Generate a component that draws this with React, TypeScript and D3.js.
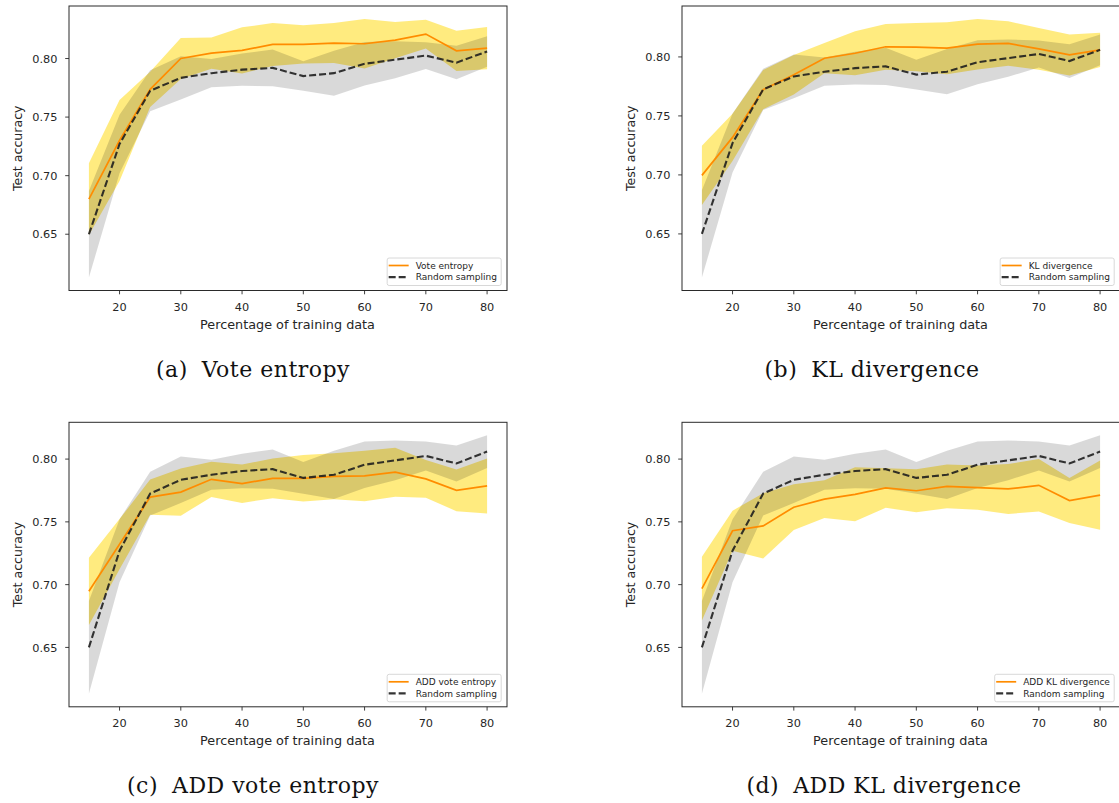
import React, { useEffect, useRef } from "react";
import * as d3 from "d3";

// Percentage of the training set used at each step
const pct = [15, 20, 25, 30, 35, 40, 45, 50, 55, 60, 65, 70, 75, 80];

// Random sampling baseline (mean test accuracy and standard deviation)
const randomMean = [0.65, 0.727, 0.7725, 0.7835, 0.7875, 0.7905, 0.792, 0.785, 0.7875, 0.7955, 0.799, 0.8025, 0.7965, 0.806];
const randomStd = [0.037, 0.025, 0.0175, 0.0185, 0.012, 0.0138, 0.0157, 0.0126, 0.0192, 0.0186, 0.0158, 0.0115, 0.0143, 0.013];

// Vote entropy
const voteEntropyMean = [0.68, 0.73, 0.7737, 0.8, 0.8046, 0.8069, 0.812, 0.812, 0.8132, 0.8126, 0.8157, 0.8209, 0.8066, 0.8089];
const voteEntropyStd = [0.0307, 0.0345, 0.015, 0.0175, 0.0134, 0.0197, 0.0183, 0.0163, 0.0171, 0.0212, 0.0155, 0.0123, 0.0172, 0.018];

// KL divergence
const klMean = [0.6996, 0.7318, 0.7723, 0.7849, 0.7989, 0.8031, 0.8086, 0.8083, 0.8074, 0.8108, 0.8114, 0.8068, 0.8017, 0.806];
const klStd = [0.0251, 0.02, 0.0166, 0.0168, 0.0128, 0.0186, 0.0194, 0.0205, 0.022, 0.0214, 0.0188, 0.0177, 0.0174, 0.0145];

// ADD vote entropy
const addVoteMean = [0.6947, 0.7322, 0.7697, 0.7737, 0.7839, 0.7804, 0.7847, 0.7847, 0.7863, 0.7866, 0.7896, 0.7842, 0.7751, 0.7786];
const addVoteStd = [0.0268, 0.02, 0.014, 0.0188, 0.014, 0.0153, 0.0158, 0.0185, 0.0183, 0.0201, 0.0195, 0.015, 0.0166, 0.0219];

// ADD KL divergence
const addKlMean = [0.6969, 0.7429, 0.7468, 0.7617, 0.7681, 0.7719, 0.777, 0.7748, 0.7783, 0.7772, 0.7762, 0.7791, 0.767, 0.7713];
const addKlStd = [0.0254, 0.016, 0.026, 0.0182, 0.015, 0.0215, 0.0158, 0.0171, 0.0174, 0.0176, 0.0199, 0.0209, 0.0179, 0.0275];

const xTicks = [20, 30, 40, 50, 60, 70, 80];
const yTicks = [0.65, 0.7, 0.75, 0.8];

const panelTags = ["(a)", "(b)", "(c)", "(d)"];
const methodNames = ["Vote entropy", "KL divergence", "ADD vote entropy", "ADD KL divergence"];
const methodMeans = [voteEntropyMean, klMean, addVoteMean, addKlMean];
const methodStds = [voteEntropyStd, klStd, addVoteStd, addKlStd];

const baselineName = "Random sampling";
const xLabel = "Percentage of training data";
const yLabel = "Test accuracy";

const W = 1119;
const H = 803;
const colLeft = [69, 682];
const rowTop = [6, 422.3];
const axW = 438;
const axH = 284.5;
const captionX = [253, 872, 253, 884];

const SANS = "'DejaVu Sans', sans-serif";
const SERIF = "'DejaVu Serif', serif";
const TEXT = "#262626";

export default function App() {
  const ref = useRef<SVGSVGElement | null>(null);

  useEffect(() => {
    const svg = d3.select(ref.current);
    svg.selectAll("*").remove();

    methodNames.forEach((name, i) => {
      const col = i % 2;
      const row = Math.floor(i / 2);
      const left = colLeft[col];
      const top = rowTop[row];
      const mean = methodMeans[i];
      const std = methodStds[i];

      const lo = (m: number[], s: number[]) => m.map((v, k) => v - s[k]);
      const hi = (m: number[], s: number[]) => m.map((v, k) => v + s[k]);
      const all = [...lo(mean, std), ...hi(mean, std), ...lo(randomMean, randomStd), ...hi(randomMean, randomStd)];
      const yMin = d3.min(all) as number;
      const yMax = d3.max(all) as number;
      const yPad = (yMax - yMin) * 0.05;
      const xMin = d3.min(pct) as number;
      const xMax = d3.max(pct) as number;
      const xPad = (xMax - xMin) * 0.05;

      const x = d3.scaleLinear().domain([xMin - xPad, xMax + xPad]).range([left, left + axW]);
      const y = d3.scaleLinear().domain([yMin - yPad, yMax + yPad]).range([top + axH, top]);

      const g = svg.append("g");

      const band = (m: number[], s: number[]) =>
        d3
          .area<number>()
          .x((_, k) => x(pct[k]))
          .y0((v, k) => y(v - s[k]))
          .y1((v, k) => y(v + s[k]))(m);
      const line = (m: number[]) =>
        d3
          .line<number>()
          .x((_, k) => x(pct[k]))
          .y((v) => y(v))(m);

      g.append("path").attr("d", band(mean, std)).attr("fill", "#ffd700").attr("fill-opacity", 0.5);
      g.append("path").attr("d", band(randomMean, randomStd)).attr("fill", "#000").attr("fill-opacity", 0.15);
      g.append("path")
        .attr("d", line(mean))
        .attr("fill", "none")
        .attr("stroke", "#ff8c00")
        .attr("stroke-width", 1.7);
      g.append("path")
        .attr("d", line(randomMean))
        .attr("fill", "none")
        .attr("stroke", "#1e1e1e")
        .attr("stroke-opacity", 0.9)
        .attr("stroke-width", 2.1)
        .attr("stroke-dasharray", "7,3");

      // frame
      g.append("rect")
        .attr("x", left)
        .attr("y", top)
        .attr("width", axW)
        .attr("height", axH)
        .attr("fill", "none")
        .attr("stroke", "#2a2a2a")
        .attr("stroke-width", 1);

      // x ticks
      xTicks.forEach((t) => {
        const px = x(t);
        g.append("line")
          .attr("x1", px)
          .attr("x2", px)
          .attr("y1", top + axH)
          .attr("y2", top + axH + 3.8)
          .attr("stroke", "#2a2a2a")
          .attr("stroke-width", 0.9);
        g.append("text")
          .attr("x", px)
          .attr("y", top + axH + 20.4)
          .attr("text-anchor", "middle")
          .attr("font-family", SANS)
          .attr("font-size", 11.3)
          .attr("fill", TEXT)
          .text(String(t));
      });

      // y ticks
      yTicks.forEach((t) => {
        const py = y(t);
        g.append("line")
          .attr("x1", left - 3.8)
          .attr("x2", left)
          .attr("y1", py)
          .attr("y2", py)
          .attr("stroke", "#2a2a2a")
          .attr("stroke-width", 0.9);
        g.append("text")
          .attr("x", left - 11.5)
          .attr("y", py + 4.1)
          .attr("text-anchor", "end")
          .attr("font-family", SANS)
          .attr("font-size", 11.3)
          .attr("fill", TEXT)
          .text(d3.format(".2f")(t));
      });

      // axis labels
      g.append("text")
        .attr("x", left + axW / 2 - 0.5)
        .attr("y", top + axH + 38.2)
        .attr("text-anchor", "middle")
        .attr("font-family", SANS)
        .attr("font-size", 12.8)
        .attr("fill", TEXT)
        .text(xLabel);
      g.append("text")
        .attr("transform", `translate(${left - 47.5},${top + axH / 2}) rotate(-90)`)
        .attr("text-anchor", "middle")
        .attr("font-family", SANS)
        .attr("font-size", 12.6)
        .attr("fill", TEXT)
        .text(yLabel);

      // legend
      const lg = g.append("g");
      const boxRight = left + Math.min(axW, 436.5) - 4.3;
      const boxBottom = top + axH - 5;
      const boxTop = boxBottom - 27.5;
      const rows = [boxBottom - 20, boxBottom - 8.4];
      const labels = [name, baselineName];
      const texts = labels.map((lab, k) =>
        lg
          .append("text")
          .attr("y", rows[k] + 3.3)
          .attr("font-family", SANS)
          .attr("font-size", 9)
          .attr("fill", TEXT)
          .text(lab)
      );
      const tw = Math.max(...texts.map((t) => (t.node() as SVGTextElement).getComputedTextLength()));
      const textX = boxRight - 4.3 - tw;
      const handleX1 = textX - 27;
      const boxLeft = handleX1 - 1.5;
      lg.insert("rect", ":first-child")
        .attr("x", boxLeft)
        .attr("y", boxTop)
        .attr("width", boxRight - boxLeft)
        .attr("height", boxBottom - boxTop)
        .attr("rx", 2)
        .attr("fill", "#fff")
        .attr("fill-opacity", 0.8)
        .attr("stroke", "#d4d4d4")
        .attr("stroke-width", 0.9);
      texts.forEach((t) => t.attr("x", textX));
      lg.append("line")
        .attr("x1", handleX1)
        .attr("x2", handleX1 + 20)
        .attr("y1", rows[0])
        .attr("y2", rows[0])
        .attr("stroke", "#ff8c00")
        .attr("stroke-width", 1.7);
      lg.append("line")
        .attr("x1", handleX1)
        .attr("x2", handleX1 + 20)
        .attr("y1", rows[1])
        .attr("y2", rows[1])
        .attr("stroke", "#1e1e1e")
        .attr("stroke-opacity", 0.9)
        .attr("stroke-width", 2.1)
        .attr("stroke-dasharray", "7,3");

      // sub-figure caption
      const cap = g
        .append("text")
        .attr("x", captionX[i])
        .attr("y", top + axH + 86.5)
        .attr("text-anchor", "middle")
        .attr("font-family", SERIF)
        .attr("font-size", 22)
        .attr("letter-spacing", 0.5)
        .attr("fill", "#111");
      cap.append("tspan").text(panelTags[i]);
      cap.append("tspan").attr("dx", 14).text(name);
    });
  }, []);

  return (
    <svg
      ref={ref}
      width={W}
      height={H}
      viewBox={`0 0 ${W} ${H}`}
      style={{ position: "absolute", left: 0, top: 0, background: "#fff" }}
    />
  );
}
